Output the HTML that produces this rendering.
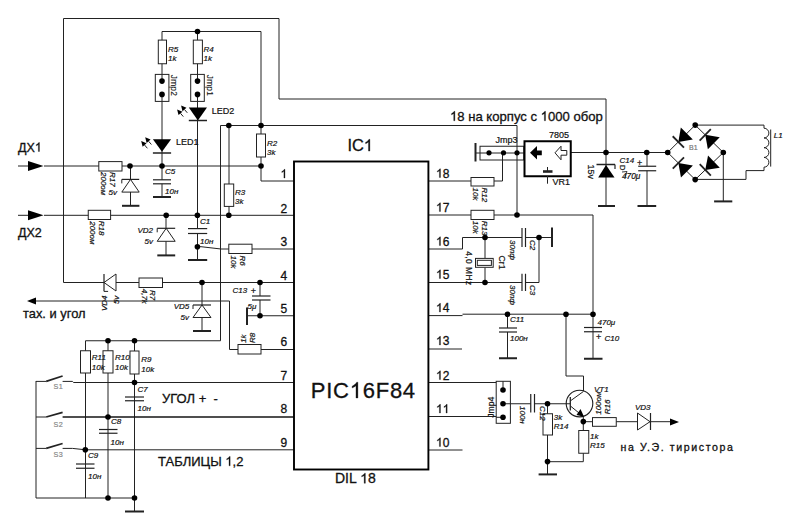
<!DOCTYPE html>
<html><head><meta charset="utf-8"><style>
html,body{margin:0;padding:0;background:#fff;width:800px;height:529px;overflow:hidden}
svg{display:block;font-family:"Liberation Sans",sans-serif}
</style></head><body>
<svg width="800" height="529" viewBox="0 0 800 529">
<rect width="800" height="529" fill="#fff"/>
<path d="M63.5,282.5 V18.5 H279 V99 H606 V206" stroke="#222" stroke-width="1" fill="none"/>
<path d="M162,31.5 H261 V181 H294" stroke="#222" stroke-width="1" fill="none"/>
<path d="M162,31.5 V179.8" stroke="#222" stroke-width="1" fill="none"/>
<path d="M162,183.8 V197" stroke="#222" stroke-width="1" fill="none"/>
<path d="M197.5,31.5 V228.6" stroke="#222" stroke-width="1" fill="none"/>
<path d="M197.5,233.5 V260" stroke="#222" stroke-width="1" fill="none"/>
<path d="M220.5,125.5 H517 V215" stroke="#222" stroke-width="1" fill="none"/>
<path d="M220.5,125.5 V340.75 H85.5 V498" stroke="#222" stroke-width="1" fill="none"/>
<path d="M229,125.5 V215" stroke="#222" stroke-width="1" fill="none"/>
<path d="M18,166 H28" stroke="#222" stroke-width="1" fill="none"/>
<path d="M44,166 H261" stroke="#222" stroke-width="1" fill="none"/>
<polygon points="28,161 43.5,166 28,171" fill="#000" stroke="none" stroke-width="1"/>
<path d="M130.5,166 V206" stroke="#222" stroke-width="1" fill="none"/>
<path d="M18,215.3 H28" stroke="#222" stroke-width="1" fill="none"/>
<path d="M44,215.3 H294" stroke="#222" stroke-width="1" fill="none"/>
<polygon points="28,210.3 43.5,215.3 28,220.3" fill="#000" stroke="none" stroke-width="1"/>
<path d="M166,215.3 V255.4" stroke="#222" stroke-width="1" fill="none"/>
<path d="M197.5,246.7 H201 L221,249 H294" stroke="#222" stroke-width="1" fill="none"/>
<path d="M63.5,282.5 H294" stroke="#222" stroke-width="1" fill="none"/>
<path d="M202,282.5 V331" stroke="#222" stroke-width="1" fill="none"/>
<path d="M260,282.5 V296" stroke="#222" stroke-width="1" fill="none"/>
<path d="M260,300 V315.75" stroke="#222" stroke-width="1" fill="none"/>
<path d="M247.5,315.75 H294" stroke="#222" stroke-width="1" fill="none"/>
<polygon points="27,301 36,297.5 36,304.5" fill="#000" stroke="none" stroke-width="1"/>
<path d="M36,301 H229.5 V349.5 H294" stroke="#222" stroke-width="1" fill="none"/>
<path d="M108,340.75 V498" stroke="#222" stroke-width="1" fill="none"/>
<path d="M134.5,340.75 V511.5" stroke="#222" stroke-width="1" fill="none"/>
<path d="M36,381 V498 H134.5" stroke="#222" stroke-width="1" fill="none"/>
<path d="M36,381.4 H46.2" stroke="#222" stroke-width="1" fill="none"/>
<path d="M46.2,381.4 L62.6,376" stroke="#222" stroke-width="1.8" fill="none"/>
<path d="M62.6,381.4 H72.5 L73.5,382.5 H294" stroke="#222" stroke-width="1" fill="none"/>
<path d="M36,417 H46.2" stroke="#222" stroke-width="1" fill="none"/>
<path d="M46.2,417 L62.6,412.3" stroke="#222" stroke-width="1.8" fill="none"/>
<path d="M62.6,417 H294" stroke="#151515" stroke-width="1.7" fill="none"/>
<path d="M36,448.4 H46.2" stroke="#222" stroke-width="1" fill="none"/>
<path d="M46.2,448.4 L62.6,443.5" stroke="#222" stroke-width="1.8" fill="none"/>
<path d="M62.6,448.4 H72.5 L85.5,449.8 H294" stroke="#222" stroke-width="1" fill="none"/>
<path d="M429,181 H471" stroke="#222" stroke-width="1" fill="none"/>
<path d="M494,181 H502.5 V153" stroke="#222" stroke-width="1" fill="none"/>
<path d="M429,215 H593 V358.75" stroke="#222" stroke-width="1" fill="none"/>
<path d="M429,249 H462.5 V237.5 H522" stroke="#222" stroke-width="1" fill="none"/>
<path d="M525.5,237.5 H552" stroke="#222" stroke-width="1" fill="none"/>
<path d="M485,237.5 V258" stroke="#222" stroke-width="1" fill="none"/>
<path d="M485,267.5 V282.5" stroke="#222" stroke-width="1" fill="none"/>
<path d="M429,282.5 H522" stroke="#222" stroke-width="1" fill="none"/>
<path d="M525.5,282.5 H539 V237.5" stroke="#222" stroke-width="1" fill="none"/>
<path d="M429,315.6 H462.5" stroke="#222" stroke-width="1" fill="none"/>
<path d="M462.5,314.2 H593" stroke="#222" stroke-width="1" fill="none"/>
<path d="M507.5,314.2 V328" stroke="#222" stroke-width="1" fill="none"/>
<path d="M507.5,332 V358.25" stroke="#222" stroke-width="1" fill="none"/>
<path d="M566,314.2 V376 H583.5 V391" stroke="#222" stroke-width="1" fill="none"/>
<path d="M429,349 H462" stroke="#222" stroke-width="1" fill="none"/>
<path d="M429,382.5 H503 V390" stroke="#222" stroke-width="1" fill="none"/>
<path d="M429,416.5 H503" stroke="#222" stroke-width="1" fill="none"/>
<path d="M429,450 H462.5" stroke="#222" stroke-width="1" fill="none"/>
<path d="M503,403.75 H530.75" stroke="#222" stroke-width="1" fill="none"/>
<path d="M534.5,403.75 H570" stroke="#222" stroke-width="1" fill="none"/>
<path d="M547.5,403.75 V474.4" stroke="#222" stroke-width="1" fill="none"/>
<path d="M583.3,416.5 V461.7 H547.5" stroke="#222" stroke-width="1" fill="none"/>
<path d="M583.3,421.7 H670" stroke="#222" stroke-width="1" fill="none"/>
<polygon points="670,418.5 679,422 670,425.5" fill="#000" stroke="none" stroke-width="1"/>
<path d="M475.5,153 H524" stroke="#222" stroke-width="1" fill="none"/>
<path d="M571,152.5 H667.7" stroke="#222" stroke-width="1" fill="none"/>
<path d="M647,152.5 V166.25" stroke="#222" stroke-width="1" fill="none"/>
<path d="M647,170.75 V206" stroke="#222" stroke-width="1" fill="none"/>
<path d="M667.7,152.5 L695.2,125.1 L723.3,152.5 L695.2,179.6 Z" stroke="#222" stroke-width="1" fill="none"/>
<path d="M695.2,125.1 H764" stroke="#222" stroke-width="1" fill="none"/>
<path d="M764,167.2 V170.6 H746 V179.4 H695.2" stroke="#222" stroke-width="1" fill="none"/>
<path d="M723.3,152.5 V201.4" stroke="#222" stroke-width="1" fill="none"/>
<rect x="158.3" y="40.1" width="8.2" height="23.65" stroke="#222" stroke-width="1" fill="#fff"/>
<rect x="193.3" y="40.1" width="9.1" height="23.65" stroke="#222" stroke-width="1" fill="#fff"/>
<rect x="155.3" y="74.4" width="13.6" height="27.0" stroke="#222" stroke-width="1" fill="#fff"/>
<line x1="162" y1="74.4" x2="162" y2="81" stroke="#222" stroke-width="1"/>
<line x1="162" y1="94.4" x2="162" y2="101.4" stroke="#222" stroke-width="1"/>
<circle cx="162" cy="81.1" r="2.8" fill="#000"/>
<circle cx="162" cy="94.4" r="2.8" fill="#000"/>
<rect x="190.7" y="74.4" width="13.6" height="27.0" stroke="#222" stroke-width="1" fill="#fff"/>
<line x1="197.5" y1="74.4" x2="197.5" y2="81" stroke="#222" stroke-width="1"/>
<line x1="197.5" y1="94.4" x2="197.5" y2="101.4" stroke="#222" stroke-width="1"/>
<circle cx="197.5" cy="81.1" r="2.8" fill="#000"/>
<circle cx="197.5" cy="94.4" r="2.8" fill="#000"/>
<polygon points="188.8,107.6 207,107.6 197.9,120.5" fill="#000" stroke="none" stroke-width="1"/>
<line x1="188.8" y1="120.5" x2="207" y2="120.5" stroke="#222" stroke-width="1.5"/>
<polygon points="152.9,139.3 171.1,139.3 162,151.8" fill="#000" stroke="none" stroke-width="1"/>
<line x1="152.9" y1="153" x2="171.1" y2="153" stroke="#222" stroke-width="1.5"/>
<polygon points="145.2,137.3 146.62,142.94 150.57,139.54" fill="#000" stroke="none" stroke-width="1"/>
<line x1="148.6" y1="141.24" x2="151.4" y2="144.5" stroke="#222" stroke-width="1"/>
<polygon points="141.2,141.1 142.62,146.74 146.57,143.34" fill="#000" stroke="none" stroke-width="1"/>
<line x1="144.6" y1="145.04" x2="147.4" y2="148.3" stroke="#222" stroke-width="1"/>
<polygon points="181.1,105.6 182.52,111.24 186.47,107.84" fill="#000" stroke="none" stroke-width="1"/>
<line x1="184.5" y1="109.54" x2="187.3" y2="112.8" stroke="#222" stroke-width="1"/>
<polygon points="177.1,109.4 178.52,115.04 182.47,111.64" fill="#000" stroke="none" stroke-width="1"/>
<line x1="180.5" y1="113.34" x2="183.3" y2="116.6" stroke="#222" stroke-width="1"/>
<rect x="256.5" y="134" width="9.0" height="23" stroke="#222" stroke-width="1" fill="#fff"/>
<rect x="224.3" y="184" width="9.4" height="22.4" stroke="#222" stroke-width="1" fill="#fff"/>
<rect x="98.8" y="161.6" width="23.2" height="9.4" stroke="#222" stroke-width="1" fill="#fff"/>
<rect x="88.25" y="210.3" width="22.35" height="9.2" stroke="#222" stroke-width="1" fill="#fff"/>
<polygon points="130.5,179.4 121.8,192.1 139.2,192.1" fill="#fff" stroke="#222" stroke-width="1"/>
<line x1="121.8" y1="179.4" x2="139.2" y2="179.4" stroke="#222" stroke-width="1.2"/>
<line x1="121.8" y1="179.4" x2="121.8" y2="183.4" stroke="#222" stroke-width="1"/>
<line x1="122" y1="205.8" x2="139.4" y2="205.8" stroke="#222" stroke-width="2"/>
<line x1="153" y1="179.8" x2="171" y2="179.8" stroke="#222" stroke-width="1.2"/>
<line x1="153" y1="183.8" x2="171" y2="183.8" stroke="#222" stroke-width="1.2"/>
<line x1="153" y1="197" x2="171" y2="197" stroke="#222" stroke-width="2"/>
<polygon points="166.2,228.3 157.2,241.3 175.2,241.3" fill="#fff" stroke="#222" stroke-width="1"/>
<line x1="157.2" y1="228.3" x2="175.2" y2="228.3" stroke="#222" stroke-width="1.2"/>
<line x1="157.2" y1="228.3" x2="157.2" y2="232.3" stroke="#222" stroke-width="1"/>
<line x1="157.3" y1="255.4" x2="175.2" y2="255.4" stroke="#222" stroke-width="2"/>
<line x1="188" y1="228.6" x2="207.2" y2="228.6" stroke="#222" stroke-width="1.2"/>
<line x1="188" y1="233.5" x2="207.2" y2="233.5" stroke="#222" stroke-width="1.2"/>
<line x1="188" y1="260" x2="207.2" y2="260" stroke="#222" stroke-width="2"/>
<rect x="228.8" y="244.2" width="23.2" height="9.3" stroke="#222" stroke-width="1" fill="#fff"/>
<polygon points="104,282.5 116,274 116,291" fill="#fff" stroke="#222" stroke-width="1"/>
<line x1="104" y1="274" x2="104" y2="291" stroke="#222" stroke-width="1.2"/>
<rect x="139" y="278" width="23.5" height="9.5" stroke="#222" stroke-width="1" fill="#fff"/>
<polygon points="202,305 193,317.5 211,317.5" fill="#fff" stroke="#222" stroke-width="1"/>
<line x1="193" y1="305" x2="211" y2="305" stroke="#222" stroke-width="1.2"/>
<line x1="193" y1="305" x2="193" y2="309" stroke="#222" stroke-width="1"/>
<line x1="193" y1="331" x2="211" y2="331" stroke="#222" stroke-width="2"/>
<line x1="252" y1="296" x2="270.5" y2="296" stroke="#222" stroke-width="1.2"/>
<line x1="252" y1="300" x2="270.5" y2="300" stroke="#222" stroke-width="1.2"/>
<line x1="247" y1="307.5" x2="247" y2="325" stroke="#222" stroke-width="2"/>
<rect x="238" y="344.5" width="23" height="9.5" stroke="#222" stroke-width="1" fill="#fff"/>
<rect x="80.5" y="350.75" width="10.0" height="22.25" stroke="#222" stroke-width="1" fill="#fff"/>
<rect x="103" y="350.75" width="10" height="22.25" stroke="#222" stroke-width="1" fill="#fff"/>
<rect x="130" y="351" width="9" height="23" stroke="#222" stroke-width="1" fill="#fff"/>
<line x1="125" y1="397" x2="144" y2="397" stroke="#222" stroke-width="1.2"/>
<line x1="125" y1="400.75" x2="144" y2="400.75" stroke="#222" stroke-width="1.2"/>
<line x1="99" y1="429.5" x2="117.5" y2="429.5" stroke="#222" stroke-width="1.2"/>
<line x1="99" y1="433.25" x2="117.5" y2="433.25" stroke="#222" stroke-width="1.2"/>
<line x1="76" y1="464" x2="94.5" y2="464" stroke="#222" stroke-width="1.2"/>
<line x1="76" y1="468.25" x2="94.5" y2="468.25" stroke="#222" stroke-width="1.2"/>
<line x1="125" y1="511.5" x2="144" y2="511.5" stroke="#222" stroke-width="2"/>
<rect x="294" y="161.5" width="134.4" height="308.0" stroke="#000" stroke-width="1.9" fill="none"/>
<rect x="471" y="177.5" width="23" height="8.5" stroke="#222" stroke-width="1" fill="#fff"/>
<rect x="471" y="210.3" width="23" height="9.2" stroke="#222" stroke-width="1" fill="#fff"/>
<line x1="522" y1="228" x2="522" y2="247" stroke="#222" stroke-width="1.2"/>
<line x1="525.5" y1="228" x2="525.5" y2="247" stroke="#222" stroke-width="1.2"/>
<line x1="522" y1="273.75" x2="522" y2="291" stroke="#222" stroke-width="1.2"/>
<line x1="525.5" y1="273.75" x2="525.5" y2="291" stroke="#222" stroke-width="1.2"/>
<line x1="552" y1="227.5" x2="552" y2="247" stroke="#222" stroke-width="2"/>
<rect x="475.5" y="258.4" width="17.7" height="8.9" stroke="#222" stroke-width="1" fill="#fff"/>
<rect x="477.3" y="260.3" width="14.1" height="5.1" stroke="#222" stroke-width="1" fill="#fff"/>
<line x1="499" y1="328" x2="517" y2="328" stroke="#222" stroke-width="1.2"/>
<line x1="499" y1="332" x2="517" y2="332" stroke="#222" stroke-width="1.2"/>
<line x1="499" y1="358.25" x2="517" y2="358.25" stroke="#222" stroke-width="2"/>
<line x1="584" y1="327.5" x2="602" y2="327.5" stroke="#222" stroke-width="1.2"/>
<line x1="584" y1="331.75" x2="602" y2="331.75" stroke="#222" stroke-width="1.2"/>
<line x1="584" y1="358.75" x2="602.5" y2="358.75" stroke="#222" stroke-width="2"/>
<rect x="496.2" y="381.3" width="14.2" height="42.0" stroke="#222" stroke-width="1" fill="#fff"/>
<line x1="503" y1="381.3" x2="503" y2="390" stroke="#222" stroke-width="1"/>
<line x1="503" y1="403.75" x2="510.4" y2="403.75" stroke="#222" stroke-width="1"/>
<line x1="496.2" y1="417.3" x2="503" y2="417.3" stroke="#222" stroke-width="1"/>
<circle cx="503" cy="390" r="2.8" fill="#000"/>
<circle cx="503" cy="403.75" r="2.8" fill="#000"/>
<circle cx="503" cy="417.3" r="2.8" fill="#000"/>
<line x1="530.75" y1="394" x2="530.75" y2="412.5" stroke="#222" stroke-width="1.2"/>
<line x1="534.5" y1="394" x2="534.5" y2="412.5" stroke="#222" stroke-width="1.2"/>
<rect x="543" y="413.75" width="9.5" height="21.25" stroke="#222" stroke-width="1" fill="#fff"/>
<rect x="578.75" y="430.5" width="10.0" height="22.75" stroke="#222" stroke-width="1" fill="#fff"/>
<rect x="592.5" y="417.6" width="23.75" height="8.7" stroke="#222" stroke-width="1" fill="#fff"/>
<line x1="538.6" y1="474.4" x2="557" y2="474.4" stroke="#222" stroke-width="2"/>
<circle cx="579.5" cy="403.6" r="13.3" stroke="#1a1a1a" stroke-width="1.1" fill="none"/>
<line x1="570.3" y1="397" x2="570.3" y2="410.5" stroke="#222" stroke-width="1.3"/>
<line x1="570.8" y1="400.6" x2="583.4" y2="391.5" stroke="#222" stroke-width="1"/>
<line x1="570.8" y1="406.3" x2="583.3" y2="416.5" stroke="#222" stroke-width="1"/>
<polygon points="580.5,409 576.5,415 584,416.8" fill="#000" stroke="none" stroke-width="1"/>
<polygon points="637.5,413 637.5,430 650,421.7" fill="#fff" stroke="#222" stroke-width="1"/>
<line x1="650.5" y1="413" x2="650.5" y2="430" stroke="#222" stroke-width="1.2"/>
<line x1="475.5" y1="143" x2="475.5" y2="161.5" stroke="#222" stroke-width="2"/>
<rect x="480" y="146.25" width="43.75" height="13.75" stroke="#222" stroke-width="1" fill="none"/>
<circle cx="489" cy="152.8" r="2.6" fill="#000"/>
<circle cx="503.5" cy="152.8" r="2.6" fill="#000"/>
<circle cx="517" cy="152.8" r="2.6" fill="#000"/>
<rect x="524.5" y="141.25" width="46.25" height="35.0" stroke="#000" stroke-width="2" fill="#fff"/>
<polygon points="530,152.8 537,146 537,150.6 541.8,150.6 541.8,155.2 537,155.2 537,159.6" fill="#000" stroke="none" stroke-width="1"/>
<polygon points="555,152.8 561,146.2 561,150.5 566.8,150.5 566.8,155.2 561,155.2 561,159.8" fill="#fff" stroke="#222" stroke-width="1"/>
<line x1="543" y1="171.5" x2="552.5" y2="171.5" stroke="#222" stroke-width="2.6"/>
<line x1="547.5" y1="167" x2="547.5" y2="171" stroke="#222" stroke-width="1"/>
<line x1="547.5" y1="176" x2="547.5" y2="183.7" stroke="#222" stroke-width="1"/>
<polygon points="606,165 598.2,177.5 614.5,177.5" fill="#000" stroke="none" stroke-width="1"/>
<line x1="596.5" y1="164.5" x2="615" y2="164.5" stroke="#222" stroke-width="1.5"/>
<line x1="615" y1="164.5" x2="615" y2="169" stroke="#222" stroke-width="1.2"/>
<line x1="598" y1="206" x2="615" y2="206" stroke="#222" stroke-width="2"/>
<line x1="638.2" y1="166.25" x2="656.2" y2="166.25" stroke="#222" stroke-width="1.2"/>
<line x1="638.2" y1="170.75" x2="656.2" y2="170.75" stroke="#222" stroke-width="1.2"/>
<line x1="637.5" y1="206" x2="656.2" y2="206" stroke="#222" stroke-width="2"/>
<polygon points="678.33,141.91 692.83,139.46 680.83,127.42" fill="#000" stroke="none" stroke-width="1"/>
<line x1="683.97" y1="147.58" x2="672.68" y2="136.25" stroke="#222" stroke-width="1.8"/>
<polygon points="678.38,163.03 680.97,177.51 692.9,165.4" fill="#000" stroke="none" stroke-width="1"/>
<line x1="672.77" y1="168.73" x2="684.0" y2="157.33" stroke="#222" stroke-width="1.8"/>
<polygon points="705.22,134.87 707.88,149.34 719.75,137.17" fill="#000" stroke="none" stroke-width="1"/>
<line x1="699.64" y1="140.6" x2="710.81" y2="129.15" stroke="#222" stroke-width="1.8"/>
<polygon points="705.28,169.88 719.82,167.67 708.01,155.43" fill="#000" stroke="none" stroke-width="1"/>
<line x1="710.83" y1="175.64" x2="699.72" y2="164.12" stroke="#222" stroke-width="1.8"/>
<line x1="714.1" y1="201.4" x2="732.3" y2="201.4" stroke="#222" stroke-width="2"/>
<path d="M764,125.1 V128.2 a4.875,4.875 0 0 1 0,9.75 a4.875,4.875 0 0 1 0,9.75 a4.875,4.875 0 0 1 0,9.75 a4.875,4.875 0 0 1 0,9.75" stroke="#222" stroke-width="1" fill="none"/>
<line x1="770.7" y1="129.5" x2="770.7" y2="166.6" stroke="#222" stroke-width="1"/>
<circle cx="197.5" cy="31.5" r="2.8" fill="#000"/>
<circle cx="228.8" cy="125.5" r="2.8" fill="#000"/>
<circle cx="261" cy="125.5" r="2.8" fill="#000"/>
<circle cx="130" cy="166" r="2.8" fill="#000"/>
<circle cx="162" cy="166" r="2.8" fill="#000"/>
<circle cx="261" cy="166" r="2.8" fill="#000"/>
<circle cx="166.2" cy="215.3" r="2.8" fill="#000"/>
<circle cx="197.4" cy="215.3" r="2.8" fill="#000"/>
<circle cx="228.8" cy="215.3" r="2.8" fill="#000"/>
<circle cx="197.4" cy="246.7" r="2.8" fill="#000"/>
<circle cx="202" cy="282.5" r="2.8" fill="#000"/>
<circle cx="260" cy="282.5" r="2.8" fill="#000"/>
<circle cx="260" cy="315.75" r="2.8" fill="#000"/>
<circle cx="108" cy="340.75" r="2.8" fill="#000"/>
<circle cx="134.5" cy="340.75" r="2.8" fill="#000"/>
<circle cx="134.5" cy="382.5" r="2.8" fill="#000"/>
<circle cx="108" cy="417" r="2.8" fill="#000"/>
<circle cx="85.3" cy="449.8" r="2.8" fill="#000"/>
<circle cx="108" cy="498" r="2.8" fill="#000"/>
<circle cx="134.5" cy="498" r="2.8" fill="#000"/>
<circle cx="517" cy="215" r="2.8" fill="#000"/>
<circle cx="485" cy="237.5" r="2.8" fill="#000"/>
<circle cx="539" cy="237.5" r="2.8" fill="#000"/>
<circle cx="485" cy="282.5" r="2.8" fill="#000"/>
<circle cx="507.5" cy="314.2" r="2.8" fill="#000"/>
<circle cx="566" cy="314.2" r="2.8" fill="#000"/>
<circle cx="593" cy="314.2" r="2.8" fill="#000"/>
<circle cx="547.5" cy="403.75" r="2.8" fill="#000"/>
<circle cx="583.3" cy="421.6" r="2.8" fill="#000"/>
<circle cx="547.5" cy="461.6" r="2.8" fill="#000"/>
<circle cx="606" cy="152.5" r="2.8" fill="#000"/>
<circle cx="646.75" cy="152.5" r="2.8" fill="#000"/>
<circle cx="667.7" cy="152.5" r="2.8" fill="#000"/>
<circle cx="695.2" cy="125.1" r="2.8" fill="#000"/>
<circle cx="723.3" cy="152.5" r="2.8" fill="#000"/>
<circle cx="695.2" cy="179.6" r="2.8" fill="#000"/>
<text x="18" y="151.5" font-size="12.5" fill="#111" stroke="#111" stroke-width="0.3">ДХ </text>
<text x="18" y="237" font-size="12.5" fill="#111" stroke="#111" stroke-width="0.3">ДХ2</text>
<text x="23" y="317.5" font-size="12.9" fill="#111" stroke="#111" stroke-width="0.3">тах. и угол</text>
<text x="347.4" y="151.1" font-size="16.4" fill="#111" stroke="#111" stroke-width="0.3">IC </text>
<text x="280.5" y="178" font-size="12" fill="#111" stroke="#111" stroke-width="0.3"> </text>
<text x="280.5" y="212.5" font-size="12" fill="#111" stroke="#111" stroke-width="0.3">2</text>
<text x="280.5" y="246" font-size="12" fill="#111" stroke="#111" stroke-width="0.3">3</text>
<text x="280.5" y="279.5" font-size="12" fill="#111" stroke="#111" stroke-width="0.3">4</text>
<text x="280.5" y="312.5" font-size="12" fill="#111" stroke="#111" stroke-width="0.3">5</text>
<text x="280.5" y="346" font-size="12" fill="#111" stroke="#111" stroke-width="0.3">6</text>
<text x="280.5" y="379.5" font-size="12" fill="#111" stroke="#111" stroke-width="0.3">7</text>
<text x="280.5" y="413" font-size="12" fill="#111" stroke="#111" stroke-width="0.3">8</text>
<text x="280.5" y="447" font-size="12" fill="#111" stroke="#111" stroke-width="0.3">9</text>
<text x="436" y="177.5" font-size="12" fill="#111" stroke="#111" stroke-width="0.3"> 8</text>
<text x="436" y="211.5" font-size="12" fill="#111" stroke="#111" stroke-width="0.3"> 7</text>
<text x="436" y="245.5" font-size="12" fill="#111" stroke="#111" stroke-width="0.3"> 6</text>
<text x="436" y="278.5" font-size="12" fill="#111" stroke="#111" stroke-width="0.3"> 5</text>
<text x="436" y="312" font-size="12" fill="#111" stroke="#111" stroke-width="0.3"> 4</text>
<text x="436" y="345" font-size="12" fill="#111" stroke="#111" stroke-width="0.3"> 3</text>
<text x="436" y="379.5" font-size="12" fill="#111" stroke="#111" stroke-width="0.3"> 2</text>
<text x="436" y="413" font-size="12" fill="#111" stroke="#111" stroke-width="0.3">  </text>
<text x="436" y="446.5" font-size="12" fill="#111" stroke="#111" stroke-width="0.3"> 0</text>
<text x="176" y="145" font-size="9" fill="#111" stroke="#111" stroke-width="0.2">LED1</text>
<text x="211.8" y="113.8" font-size="9" fill="#111" stroke="#111" stroke-width="0.2">LED2</text>
<text x="450" y="120.75" font-size="13.1" fill="#111" stroke="#111" stroke-width="0.3"> 8 на корпус с  000 обор</text>
<text x="495.5" y="142.5" font-size="9" fill="#111" stroke="#111" stroke-width="0.2">Jmp3</text>
<text x="549" y="138.2" font-size="9" fill="#111" stroke="#111" stroke-width="0.2">7805</text>
<text x="552.5" y="184.8" font-size="9" fill="#111" stroke="#111" stroke-width="0.2">VR1</text>
<text x="310.8" y="398" font-size="22" fill="#111" stroke="#111" stroke-width="0.3" letter-spacing="0.75">PIC 6F84</text>
<text x="335" y="483.25" font-size="14" fill="#111" stroke="#111" stroke-width="0.3">DIL  8</text>
<text x="162" y="402.7" font-size="13" fill="#111" stroke="#111" stroke-width="0.3">УГОЛ +  -</text>
<text x="158" y="465.8" font-size="13" fill="#111" stroke="#111" stroke-width="0.3">ТАБЛИЦЫ  ,2</text>
<text x="620.5" y="451.2" font-size="10.6" fill="#111" stroke="#111" stroke-width="0.3" letter-spacing="1.6">на У.Э. тиристора</text>
<text x="53.4" y="388.9" font-size="7.2" fill="#888" stroke="#888" stroke-width="0.2" letter-spacing="0.5">S1</text>
<text x="53.4" y="426.9" font-size="7.2" fill="#888" stroke="#888" stroke-width="0.2" letter-spacing="0.5">S2</text>
<text x="53.4" y="456.5" font-size="7.2" fill="#888" stroke="#888" stroke-width="0.2" letter-spacing="0.5">S3</text>
<text x="689" y="149.5" font-size="7" fill="#777" stroke="#777" stroke-width="0.2">B1</text>
<text x="168" y="51.5" font-size="8" fill="#111" font-style="italic" stroke="#111" stroke-width="0.2">R5</text>
<text x="168" y="61.3" font-size="8" fill="#111" font-style="italic" stroke="#111" stroke-width="0.2">1k</text>
<text x="203.5" y="51.5" font-size="8" fill="#111" font-style="italic" stroke="#111" stroke-width="0.2">R4</text>
<text x="203.5" y="61.3" font-size="8" fill="#111" font-style="italic" stroke="#111" stroke-width="0.2">1k</text>
<text x="267" y="145.75" font-size="8" fill="#111" font-style="italic" stroke="#111" stroke-width="0.2">R2</text>
<text x="267" y="154.5" font-size="8" fill="#111" font-style="italic" stroke="#111" stroke-width="0.2">3k</text>
<text x="235" y="195" font-size="8" fill="#111" font-style="italic" stroke="#111" stroke-width="0.2">R3</text>
<text x="235" y="204" font-size="8" fill="#111" font-style="italic" stroke="#111" stroke-width="0.2">3k</text>
<text x="165" y="174" font-size="8" fill="#111" font-style="italic" stroke="#111" stroke-width="0.2">C5</text>
<text x="165" y="194" font-size="8" fill="#111" font-style="italic" stroke="#111" stroke-width="0.2">10н</text>
<text x="200" y="224" font-size="8" fill="#111" font-style="italic" stroke="#111" stroke-width="0.2">C1</text>
<text x="200" y="243.75" font-size="8" fill="#111" font-style="italic" stroke="#111" stroke-width="0.2">10н</text>
<text x="137.5" y="233.25" font-size="8" fill="#111" font-style="italic" stroke="#111" stroke-width="0.2">VD2</text>
<text x="144.5" y="243.75" font-size="8" fill="#111" font-style="italic" stroke="#111" stroke-width="0.2">5v</text>
<text x="173.75" y="308.75" font-size="8" fill="#111" font-style="italic" stroke="#111" stroke-width="0.2">VD5</text>
<text x="180.5" y="319.5" font-size="8" fill="#111" font-style="italic" stroke="#111" stroke-width="0.2">5v</text>
<text x="232.5" y="293" font-size="8" fill="#111" font-style="italic" stroke="#111" stroke-width="0.2">C13</text>
<text x="250.8" y="294" font-size="9" fill="#111" stroke="#111" stroke-width="0.2">+</text>
<text x="247.5" y="309" font-size="8" fill="#111" font-style="italic" stroke="#111" stroke-width="0.2">5μ</text>
<text x="510" y="322" font-size="8" fill="#111" font-style="italic" stroke="#111" stroke-width="0.2">C11</text>
<text x="510" y="341" font-size="8" fill="#111" font-style="italic" stroke="#111" stroke-width="0.2">100н</text>
<text x="597.5" y="325" font-size="8" fill="#111" font-style="italic" stroke="#111" stroke-width="0.2">470μ</text>
<text x="596" y="340" font-size="9" fill="#111" stroke="#111" stroke-width="0.2">+</text>
<text x="604.5" y="341" font-size="8" fill="#111" font-style="italic" stroke="#111" stroke-width="0.2">C10</text>
<text x="619.5" y="162.7" font-size="8" fill="#111" font-style="italic" stroke="#111" stroke-width="0.2">C14</text>
<text x="637" y="166" font-size="9" fill="#111" stroke="#111" stroke-width="0.2">+</text>
<text x="622" y="178.6" font-size="8.3" fill="#111" font-style="italic" stroke="#111" stroke-width="0.2">470μ</text>
<text x="91.75" y="360" font-size="8" fill="#111" font-style="italic" stroke="#111" stroke-width="0.2">R11</text>
<text x="91.75" y="370" font-size="8" fill="#111" font-style="italic" stroke="#111" stroke-width="0.2">10k</text>
<text x="115" y="360" font-size="8" fill="#111" font-style="italic" stroke="#111" stroke-width="0.2">R10</text>
<text x="115" y="370" font-size="8" fill="#111" font-style="italic" stroke="#111" stroke-width="0.2">10k</text>
<text x="141.25" y="362" font-size="8" fill="#111" font-style="italic" stroke="#111" stroke-width="0.2">R9</text>
<text x="141.25" y="372" font-size="8" fill="#111" font-style="italic" stroke="#111" stroke-width="0.2">10k</text>
<text x="137.5" y="392" font-size="8" fill="#111" font-style="italic" stroke="#111" stroke-width="0.2">C7</text>
<text x="137.5" y="411" font-size="8" fill="#111" font-style="italic" stroke="#111" stroke-width="0.2">10н</text>
<text x="111" y="424" font-size="8" fill="#111" font-style="italic" stroke="#111" stroke-width="0.2">C8</text>
<text x="110.5" y="444.5" font-size="8" fill="#111" font-style="italic" stroke="#111" stroke-width="0.2">10н</text>
<text x="88" y="458" font-size="8" fill="#111" font-style="italic" stroke="#111" stroke-width="0.2">C9</text>
<text x="88" y="479" font-size="8" fill="#111" font-style="italic" stroke="#111" stroke-width="0.2">10н</text>
<text x="553.75" y="420" font-size="8" fill="#111" font-style="italic" stroke="#111" stroke-width="0.2">3k</text>
<text x="553.75" y="428.75" font-size="8" fill="#111" font-style="italic" stroke="#111" stroke-width="0.2">R14</text>
<text x="590" y="439" font-size="8" fill="#111" font-style="italic" stroke="#111" stroke-width="0.2">1k</text>
<text x="590" y="447.5" font-size="8" fill="#111" font-style="italic" stroke="#111" stroke-width="0.2">R15</text>
<text x="635" y="409.5" font-size="8" fill="#111" font-style="italic" stroke="#111" stroke-width="0.2">VD3</text>
<text x="594" y="392" font-size="8" fill="#111" font-style="italic" stroke="#111" stroke-width="0.2">VT1</text>
<text x="773.7" y="138.1" font-size="8" fill="#111" font-style="italic" stroke="#111" stroke-width="0.2">L1</text>
<text transform="translate(99,220.7) rotate(90)" font-size="8" fill="#111" font-style="italic" stroke="#111" stroke-width="0.2">R18</text>
<text transform="translate(90,221.2) rotate(90)" font-size="8" fill="#111" font-style="italic" stroke="#111" stroke-width="0.2">200ом</text>
<text transform="translate(109.5,172) rotate(90)" font-size="8" fill="#111" font-style="italic" stroke="#111" stroke-width="0.2">R17</text>
<text transform="translate(100.8,172) rotate(90)" font-size="8" fill="#111" font-style="italic" stroke="#111" stroke-width="0.2">200ом</text>
<text x="108.6" y="195" font-size="8" fill="#111" font-style="italic" stroke="#111" stroke-width="0.2">5v</text>
<text transform="translate(240,255.5) rotate(90)" font-size="8" fill="#111" font-style="italic" stroke="#111" stroke-width="0.2">R6</text>
<text transform="translate(230.5,255.5) rotate(90)" font-size="8" fill="#111" font-style="italic" stroke="#111" stroke-width="0.2">10k</text>
<text transform="translate(150,290) rotate(90)" font-size="8" fill="#111" font-style="italic" stroke="#111" stroke-width="0.2">R7</text>
<text transform="translate(141.5,288.75) rotate(90)" font-size="8" fill="#111" font-style="italic" stroke="#111" stroke-width="0.2">4,7k</text>
<text transform="translate(107.2,311.1) rotate(-90)" font-size="8" fill="#111" font-style="italic" stroke="#111" stroke-width="0.2">VD4</text>
<text transform="translate(118.6,304.1) rotate(-90)" font-size="8" fill="#111" font-style="italic" stroke="#111" stroke-width="0.2">5v</text>
<line x1="103.75" y1="291.4" x2="108.1" y2="291.4" stroke="#222" stroke-width="1"/>
<text transform="translate(246,343) rotate(-90)" font-size="8" fill="#111" font-style="italic" stroke="#111" stroke-width="0.2">1k</text>
<text transform="translate(255.2,343) rotate(-90)" font-size="8" fill="#111" font-style="italic" stroke="#111" stroke-width="0.2">R8</text>
<text transform="translate(481.5,187.5) rotate(90)" font-size="8" fill="#111" font-style="italic" stroke="#111" stroke-width="0.2">R12</text>
<text transform="translate(472.5,187.5) rotate(90)" font-size="8" fill="#111" font-style="italic" stroke="#111" stroke-width="0.2">10k</text>
<text transform="translate(481.5,220.75) rotate(90)" font-size="8" fill="#111" font-style="italic" stroke="#111" stroke-width="0.2">R13</text>
<text transform="translate(472.5,220.75) rotate(90)" font-size="8" fill="#111" font-style="italic" stroke="#111" stroke-width="0.2">10k</text>
<text transform="translate(465.5,251.2) rotate(90)" font-size="8.4" fill="#111" stroke="#111" stroke-width="0.2" letter-spacing="0.45">4,0 MHz</text>
<text transform="translate(499.2,255.6) rotate(90)" font-size="8.7" fill="#111" stroke="#111" stroke-width="0.2">Cr1</text>
<text transform="translate(510,240) rotate(90)" font-size="8" fill="#111" font-style="italic" stroke="#111" stroke-width="0.2">30пф</text>
<text transform="translate(530,240) rotate(90)" font-size="8" fill="#111" font-style="italic" stroke="#111" stroke-width="0.2">C2</text>
<text transform="translate(510,285) rotate(90)" font-size="8" fill="#111" font-style="italic" stroke="#111" stroke-width="0.2">30пф</text>
<text transform="translate(530,285) rotate(90)" font-size="8" fill="#111" font-style="italic" stroke="#111" stroke-width="0.2">C3</text>
<text transform="translate(171,74.8) rotate(90)" font-size="8.4" fill="#111" stroke="#111" stroke-width="0.1" letter-spacing="0.2">Jmp2</text>
<text transform="translate(206.5,74.8) rotate(90)" font-size="8.4" fill="#111" stroke="#111" stroke-width="0.1" letter-spacing="0.2">Jmp1</text>
<text transform="translate(494.3,417.8) rotate(-90)" font-size="8.6" fill="#111" stroke="#111" stroke-width="0.2">Jmp4</text>
<text transform="translate(520,406) rotate(90)" font-size="8" fill="#111" font-style="italic" stroke="#111" stroke-width="0.2">100н</text>
<text transform="translate(540,406) rotate(90)" font-size="8" fill="#111" font-style="italic" stroke="#111" stroke-width="0.2">C12</text>
<text transform="translate(600.5,414.8) rotate(-90)" font-size="8" fill="#111" font-style="italic" stroke="#111" stroke-width="0.2">100ом</text>
<text transform="translate(610,414.2) rotate(-90)" font-size="8" fill="#111" font-style="italic" stroke="#111" stroke-width="0.2">R16</text>
<text transform="translate(587.8,164.5) rotate(90)" font-size="9" fill="#111" stroke="#111" stroke-width="0.2">15v</text>
<text transform="translate(619.8,165) rotate(90)" font-size="7.5" fill="#111" stroke="#111" stroke-width="0.2">D</text>
<path d="M622,172 L627,171.5 L625,177" stroke="#222" stroke-width="0.9" fill="none"/>
<path d="M763 0H583V1147Q518 1085 412.5 1023Q307 961 223 930V1104Q374 1175 487 1276Q600 1377 647 1472H763Z" fill="#111" stroke="#111" stroke-width="49.2" transform="translate(34.8,151.5) scale(0.0061,-0.0061)"/>
<path d="M763 0H583V1147Q518 1085 412.5 1023Q307 961 223 930V1104Q374 1175 487 1276Q600 1377 647 1472H763Z" fill="#111" stroke="#111" stroke-width="37.5" transform="translate(363.79,151.1) scale(0.00801,-0.00801)"/>
<path d="M763 0H583V1147Q518 1085 412.5 1023Q307 961 223 930V1104Q374 1175 487 1276Q600 1377 647 1472H763Z" fill="#111" stroke="#111" stroke-width="51.2" transform="translate(280.5,178) scale(0.00586,-0.00586)"/>
<path d="M763 0H583V1147Q518 1085 412.5 1023Q307 961 223 930V1104Q374 1175 487 1276Q600 1377 647 1472H763Z" fill="#111" stroke="#111" stroke-width="51.2" transform="translate(436,177.5) scale(0.00586,-0.00586)"/>
<path d="M763 0H583V1147Q518 1085 412.5 1023Q307 961 223 930V1104Q374 1175 487 1276Q600 1377 647 1472H763Z" fill="#111" stroke="#111" stroke-width="51.2" transform="translate(436,211.5) scale(0.00586,-0.00586)"/>
<path d="M763 0H583V1147Q518 1085 412.5 1023Q307 961 223 930V1104Q374 1175 487 1276Q600 1377 647 1472H763Z" fill="#111" stroke="#111" stroke-width="51.2" transform="translate(436,245.5) scale(0.00586,-0.00586)"/>
<path d="M763 0H583V1147Q518 1085 412.5 1023Q307 961 223 930V1104Q374 1175 487 1276Q600 1377 647 1472H763Z" fill="#111" stroke="#111" stroke-width="51.2" transform="translate(436,278.5) scale(0.00586,-0.00586)"/>
<path d="M763 0H583V1147Q518 1085 412.5 1023Q307 961 223 930V1104Q374 1175 487 1276Q600 1377 647 1472H763Z" fill="#111" stroke="#111" stroke-width="51.2" transform="translate(436,312) scale(0.00586,-0.00586)"/>
<path d="M763 0H583V1147Q518 1085 412.5 1023Q307 961 223 930V1104Q374 1175 487 1276Q600 1377 647 1472H763Z" fill="#111" stroke="#111" stroke-width="51.2" transform="translate(436,345) scale(0.00586,-0.00586)"/>
<path d="M763 0H583V1147Q518 1085 412.5 1023Q307 961 223 930V1104Q374 1175 487 1276Q600 1377 647 1472H763Z" fill="#111" stroke="#111" stroke-width="51.2" transform="translate(436,379.5) scale(0.00586,-0.00586)"/>
<path d="M763 0H583V1147Q518 1085 412.5 1023Q307 961 223 930V1104Q374 1175 487 1276Q600 1377 647 1472H763Z" fill="#111" stroke="#111" stroke-width="51.2" transform="translate(436,413) scale(0.00586,-0.00586)"/>
<path d="M763 0H583V1147Q518 1085 412.5 1023Q307 961 223 930V1104Q374 1175 487 1276Q600 1377 647 1472H763Z" fill="#111" stroke="#111" stroke-width="51.2" transform="translate(442.67,413) scale(0.00586,-0.00586)"/>
<path d="M763 0H583V1147Q518 1085 412.5 1023Q307 961 223 930V1104Q374 1175 487 1276Q600 1377 647 1472H763Z" fill="#111" stroke="#111" stroke-width="51.2" transform="translate(436,446.5) scale(0.00586,-0.00586)"/>
<path d="M763 0H583V1147Q518 1085 412.5 1023Q307 961 223 930V1104Q374 1175 487 1276Q600 1377 647 1472H763Z" fill="#111" stroke="#111" stroke-width="46.9" transform="translate(450,120.75) scale(0.0064,-0.0064)"/>
<path d="M763 0H583V1147Q518 1085 412.5 1023Q307 961 223 930V1104Q374 1175 487 1276Q600 1377 647 1472H763Z" fill="#111" stroke="#111" stroke-width="46.9" transform="translate(540.64,120.75) scale(0.0064,-0.0064)"/>
<path d="M763 0H583V1147Q518 1085 412.5 1023Q307 961 223 930V1104Q374 1175 487 1276Q600 1377 647 1472H763Z" fill="#111" stroke="#111" stroke-width="27.9" transform="translate(349.72,398) scale(0.01074,-0.01074)"/>
<path d="M763 0H583V1147Q518 1085 412.5 1023Q307 961 223 930V1104Q374 1175 487 1276Q600 1377 647 1472H763Z" fill="#111" stroke="#111" stroke-width="43.9" transform="translate(360.16,483.25) scale(0.00684,-0.00684)"/>
<path d="M763 0H583V1147Q518 1085 412.5 1023Q307 961 223 930V1104Q374 1175 487 1276Q600 1377 647 1472H763Z" fill="#111" stroke="#111" stroke-width="47.3" transform="translate(225.31,465.8) scale(0.00635,-0.00635)"/>
</svg></body></html>
